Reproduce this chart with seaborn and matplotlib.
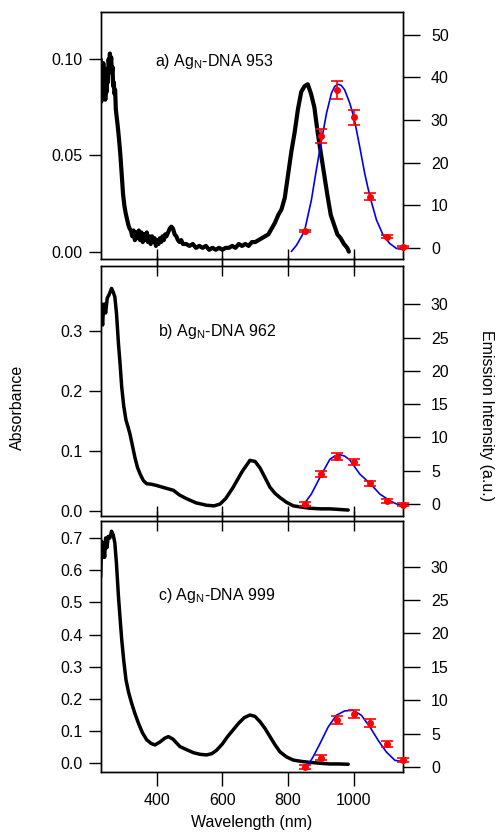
import numpy as np
import pandas as pd
import seaborn as sns
import matplotlib.pyplot as plt

sns.set_style("ticks")
plt.rcParams['font.family'] = ['Liberation Sans', 'DejaVu Sans']
plt.rcParams['mathtext.fontset'] = 'custom'
plt.rcParams['mathtext.rm'] = 'Liberation Sans'
plt.rcParams['mathtext.it'] = 'Liberation Sans'
for k in ['text.color', 'axes.labelcolor', 'xtick.color', 'ytick.color', 'axes.edgecolor']:
    plt.rcParams[k] = 'black'

# ---- panel a: Ag_N-DNA 953 ----
abs_a_wl = [230, 232, 234, 236, 238, 240, 242, 244, 246, 248, 250, 252, 254, 256, 258, 260, 262, 264,
            266, 268, 270, 272, 274, 276, 278, 282, 286, 290, 294, 298, 302, 306, 310, 314, 318, 322,
            326, 330, 334, 338, 342, 346, 350, 354, 358, 362, 366, 370, 374, 378, 382, 386, 390, 394,
            398, 402, 406, 410, 414, 418, 422, 426, 430, 435, 440, 445, 450, 455, 460, 465, 470, 475,
            480, 490, 500, 510, 520, 530, 540, 550, 560, 570, 580, 590, 600, 610, 620, 630, 640, 650,
            660, 670, 680, 690, 700, 710, 720, 730, 740, 750, 760, 770, 780, 790, 800, 810, 820, 830,
            840, 850, 860, 870, 880, 890, 900, 910, 920, 930, 940, 950, 960, 970, 980, 985]
abs_a = [0.100, 0.078, 0.095, 0.080, 0.098, 0.082, 0.090, 0.079, 0.088, 0.083, 0.095, 0.088, 0.100,
         0.097, 0.103, 0.098, 0.101, 0.093, 0.096, 0.086, 0.088, 0.082, 0.084, 0.074, 0.071, 0.065,
         0.058, 0.050, 0.040, 0.030, 0.024, 0.020, 0.017, 0.014, 0.012, 0.011, 0.008, 0.011, 0.006,
         0.010, 0.007, 0.011, 0.006, 0.010, 0.005, 0.009, 0.006, 0.010, 0.005, 0.008, 0.004, 0.008,
         0.005, 0.007, 0.003, 0.006, 0.004, 0.007, 0.005, 0.008, 0.006, 0.009, 0.008, 0.010, 0.012,
         0.013, 0.012, 0.009, 0.008, 0.006, 0.005, 0.006, 0.004, 0.004, 0.003, 0.004, 0.002, 0.003,
         0.002, 0.003, 0.001, 0.002, 0.001, 0.002, 0.001, 0.002, 0.002, 0.003, 0.002, 0.004, 0.003,
         0.004, 0.003, 0.005, 0.005, 0.006, 0.007, 0.008, 0.009, 0.012, 0.015, 0.019, 0.022, 0.028,
         0.040, 0.052, 0.062, 0.074, 0.083, 0.086, 0.087, 0.082, 0.075, 0.062, 0.051, 0.040, 0.029,
         0.019, 0.014, 0.009, 0.007, 0.004, 0.002, 0.000]
fit_a_wl = [810, 826, 850, 871, 886, 900, 917, 932, 942, 952, 962, 972, 988, 1001, 1018, 1033, 1049,
            1069, 1089, 1109, 1130, 1150]
fit_a = [-0.9, 0.6, 3.9, 11.2, 18.3, 24.5, 31.6, 36.3, 37.9, 38.4, 38.1, 37.1, 33.9, 30.4, 23.7, 17.5,
         12.0, 6.5, 3.0, 1.0, -0.2, -0.4]
em_a = [3.9, 26.3, 37.1, 30.6, 12.0, 2.6, 0.1]
em_a_err = [0.3, 1.6, 2.1, 1.8, 0.8, 0.3, 0.2]

# ---- panel b: Ag_N-DNA 962 ----
abs_b_wl = [230, 232, 234, 236, 238, 241, 245, 250, 255, 263, 268, 273, 278, 284, 289, 294, 300, 307,
            313, 319, 326, 334, 342, 350, 360, 370, 385, 400, 425, 451, 470, 491, 520, 552, 575, 593,
            610, 633, 660, 684, 700, 715, 730, 745, 760, 775, 795, 816, 840, 866, 900, 927, 955, 983]
abs_b = [0.325, 0.345, 0.318, 0.310, 0.335, 0.345, 0.330, 0.355, 0.360, 0.371, 0.365, 0.357, 0.330,
         0.279, 0.245, 0.206, 0.175, 0.151, 0.140, 0.128, 0.110, 0.089, 0.072, 0.061, 0.050, 0.045,
         0.044, 0.042, 0.038, 0.034, 0.026, 0.020, 0.013, 0.009, 0.008, 0.011, 0.020, 0.039, 0.065,
         0.084, 0.082, 0.071, 0.055, 0.039, 0.029, 0.022, 0.014, 0.008, 0.006, 0.004, 0.003, 0.003,
         0.002, 0.001]
fit_b_wl = [850, 871, 897, 927, 942, 957, 972, 988, 1018, 1049, 1079, 1109, 1130, 1150]
fit_b = [0.1, 1.5, 4.0, 6.7, 7.2, 7.4, 7.2, 6.6, 4.5, 3.1, 1.5, 0.5, 0.0, -0.25]
em_b = [0.0, 4.5, 7.1, 6.3, 3.1, 0.5, -0.1]
em_b_err = [0.3, 0.4, 0.5, 0.5, 0.4, 0.3, 0.2]

# ---- panel c: Ag_N-DNA 999 ----
abs_c_wl = [230, 233, 236, 239, 242, 245, 249, 253, 258, 263, 268, 273, 278, 284, 289, 294, 300, 307,
            315, 324, 334, 345, 357, 370, 383, 395, 410, 425, 436, 450, 471, 490, 512, 532, 552, 568,
            583, 600, 616, 633, 650, 667, 684, 699, 715, 730, 745, 760, 775, 795, 816, 840, 866, 900,
            927, 955, 983]
abs_c = [0.580, 0.690, 0.640, 0.675, 0.640, 0.700, 0.670, 0.705, 0.700, 0.721, 0.710, 0.685, 0.620,
         0.519, 0.450, 0.384, 0.320, 0.259, 0.220, 0.187, 0.155, 0.124, 0.095, 0.073, 0.062, 0.057,
         0.066, 0.078, 0.083, 0.075, 0.052, 0.043, 0.033, 0.028, 0.026, 0.030, 0.041, 0.060, 0.083,
         0.104, 0.125, 0.142, 0.150, 0.146, 0.129, 0.108, 0.083, 0.058, 0.036, 0.020, 0.010, 0.006,
         0.003, 0.000, -0.002, -0.002, -0.003]
fit_c_wl = [856, 876, 897, 922, 947, 972, 998, 1023, 1049, 1074, 1099, 1125, 1150]
fit_c = [-0.1, 1.5, 3.5, 6.0, 7.75, 8.4, 8.5, 7.75, 6.0, 4.0, 2.25, 1.0, 0.8]
em_c = [0.0, 1.4, 7.0, 8.0, 6.65, 3.45, 1.0]
em_c_err = [0.3, 0.4, 0.6, 0.6, 0.6, 0.4, 0.3]

em_wl = [850, 900, 950, 1000, 1050, 1100, 1150]
x_ticks = [400, 600, 800, 1000]

panels = [
    dict(label="a) Ag$_{\\rm N}$-DNA 953", wl=abs_a_wl, ab=abs_a, fwl=fit_a_wl, fit=fit_a, em=em_a,
         err=em_a_err, ylim=(-0.0038, 0.1244), yticks=[0.0, 0.05, 0.10], fmt="{:.2f}",
         ylim2=(-2.66, 55.3), yticks2=[0, 10, 20, 30, 40, 50], lw=3.0,
         rect=[0.2026, 0.6887, 0.6085, 0.2965], txt=(0.18, 0.80)),
    dict(label="b) Ag$_{\\rm N}$-DNA 962", wl=abs_b_wl, ab=abs_b, fwl=fit_b_wl, fit=fit_b, em=em_b,
         err=em_b_err, ylim=(-0.0084, 0.409), yticks=[0.0, 0.1, 0.2, 0.3], fmt="{:.1f}",
         ylim2=(-1.76, 35.8), yticks2=[0, 5, 10, 15, 20, 25, 30], lw=2.5,
         rect=[0.2026, 0.3802, 0.6085, 0.3005], txt=(0.19, 0.735)),
    dict(label="c) Ag$_{\\rm N}$-DNA 999", wl=abs_c_wl, ab=abs_c, fwl=fit_c_wl, fit=fit_c, em=em_c,
         err=em_c_err, ylim=(-0.026, 0.7528), yticks=[0.0, 0.1, 0.2, 0.3, 0.4, 0.5, 0.6, 0.7],
         fmt="{:.1f}", ylim2=(-0.7, 36.85), yticks2=[0, 5, 10, 15, 20, 25, 30], lw=2.5,
         rect=[0.2026, 0.0725, 0.6085, 0.3013], txt=(0.19, 0.703)),
]

fig = plt.figure(figsize=(4.97, 8.32), dpi=100)
fs = 11.5

for i, p in enumerate(panels):
    ax = fig.add_axes(p["rect"])
    df = pd.DataFrame({"wl": p["wl"], "ab": p["ab"]})
    sns.lineplot(data=df, x="wl", y="ab", ax=ax, color="black", lw=p["lw"], sort=False,
                 estimator=None)
    ax.set_xlim(230, 1150)
    ax.set_ylim(*p["ylim"])
    ax.set_yticks(p["yticks"])
    ax.set_yticklabels([p["fmt"].format(v) for v in p["yticks"]], fontsize=fs)
    ax.set_xticks(x_ticks)
    ax.set_xlabel("")
    ax.set_ylabel("")
    ax.tick_params(axis="y", direction="out", length=9, width=1, pad=4)
    ax.text(p["txt"][0], p["txt"][1], p["label"], transform=ax.transAxes, fontsize=fs,
            va="center", ha="left")
    for s in ax.spines.values():
        s.set_visible(True)
        s.set_linewidth(1)

    if i < 2:
        # shared boundary below: ticks cross the spine
        ax.tick_params(axis="x", direction="inout", length=14, width=1, labelbottom=False,
                       top=(i == 1))
    else:
        ax.tick_params(axis="x", direction="out", length=10, width=1, labelsize=fs, pad=5,
                       top=False)
        sec = ax.secondary_xaxis("top")
        sec.set_xticks(x_ticks)
        sec.tick_params(axis="x", direction="inout", length=14, width=1, labeltop=False)

    ax2 = ax.twinx()
    fdf = pd.DataFrame({"wl": p["fwl"], "fit": p["fit"]})
    sns.lineplot(data=fdf, x="wl", y="fit", ax=ax2, color="#0000ee", lw=1.2, sort=False,
                 estimator=None)
    ax2.errorbar(em_wl, p["em"], yerr=p["err"], fmt="o", color="red", ms=4, elinewidth=1.2,
                 capsize=4, capthick=1.2, clip_on=False, zorder=5)
    ax2.set_ylim(*p["ylim2"])
    ax2.set_yticks(p["yticks2"])
    ax2.set_yticklabels([str(v) for v in p["yticks2"]], fontsize=fs)
    ax2.set_ylabel("")
    ax2.tick_params(axis="y", direction="out", length=12, width=1, pad=8)
    for s in ax2.spines.values():
        s.set_linewidth(1)

fig.text(0.036, 0.51, "Absorbance", rotation=90, fontsize=fs, va="center", ha="center")
fig.text(0.978, 0.50, "Emission Intensity (a.u.)", rotation=270, fontsize=fs, va="center",
         ha="center")
fig.text(0.507, 0.011, "Wavelength (nm)", fontsize=fs, va="center", ha="center")

fig.savefig("out.png", dpi=100)
